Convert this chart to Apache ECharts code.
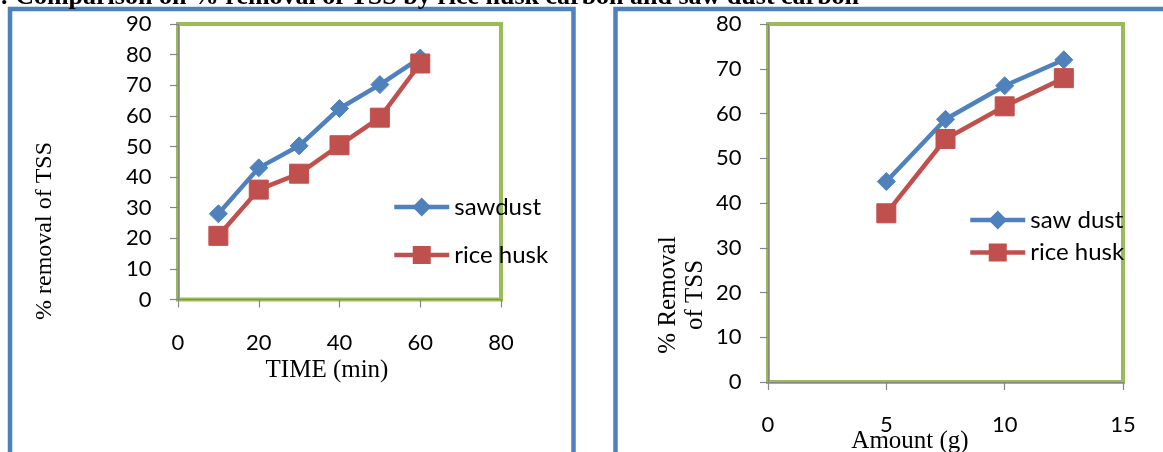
<!DOCTYPE html>
<html><head><meta charset="utf-8">
<script src="https://cdn.jsdelivr.net/npm/echarts@6/dist/echarts.min.js"></script>
<style>html,body{margin:0;padding:0;background:#fff;overflow:hidden}#c{width:1163px;height:452px}</style>
</head><body><div id="c"></div>
<script>
// ---- data ----
const timeMin = [10, 20, 30, 40, 50, 60];
const sawdustByTime = [28.0, 43.0, 50.2, 62.4, 70.2, 78.9];
const riceHuskByTime = [20.8, 35.9, 41.1, 50.4, 59.4, 77.1];
const amountG = [5, 7.5, 10, 12.5];
const sawDustByAmount = [44.8, 58.7, 66.2, 72.0];
const riceHuskByAmount = [37.7, 54.3, 61.6, 67.9];
const leftLegend = ['sawdust', 'rice husk'];
const rightLegend = ['saw dust', 'rice husk'];
const titleText = ': Comparison on % removal of TSS by rice husk carbon and saw dust carbon';
const leftXTitle = 'TIME (min)';
const leftYTitle = '% removal of TSS';
const rightXTitle = 'Amount (g)';
const rightYTitle = '% Removal\nof TSS';

const BLUE = '#4F81BD', RED = '#C0504D', GREEN = '#9BBB59', GRAY = '#868686';
const tickFont = { color: '#000', fontFamily: 'Lato', fontSize: 22 };
const pair = (xs, ys) => xs.map((x, i) => [x, ys[i]]);

function valueAxis(idx, min, max, interval, isX) {
  return {
    type: 'value', gridIndex: idx, min, max, interval,
    offset: 2,
    axisLine: { show: true, lineStyle: { color: GRAY, width: 1.2 } },
    axisTick: { show: true, inside: false, length: 8, lineStyle: { color: GRAY, width: 1.2 } },
    splitLine: { show: false },
    axisLabel: Object.assign({ margin: isX ? 30 : 24.5 }, tickFont)
  };
}

function lineSeries(name, xi, data, color, symbol, size) {
  return {
    type: 'line', name, xAxisIndex: xi, yAxisIndex: xi, data,
    symbol, symbolSize: size, showAllSymbol: true,
    lineStyle: { color, width: 4.5 },
    itemStyle: { color, borderColor: color, borderWidth: 1 },
    emphasis: { disabled: true }, animation: false
  };
}

const legendText = { color: '#000', fontFamily: 'Lato', fontSize: 24, lineHeight: 24 };
const chart = echarts.init(document.getElementById('c'), null, { renderer: 'canvas' });
chart.setOption({
  animation: false,
  grid: [
    { left: 178, right: 662, top: 24, bottom: 152.5, show: true, borderColor: GREEN, borderWidth: 4, backgroundColor: 'transparent' },
    { left: 768, right: 40, top: 24, bottom: 70, show: true, borderColor: GREEN, borderWidth: 4, backgroundColor: 'transparent' }
  ],
  xAxis: [valueAxis(0, 0, 80, 20, true), valueAxis(1, 0, 15, 5, true)],
  yAxis: [valueAxis(0, 0, 90, 10, false), valueAxis(1, 0, 80, 10, false)],
  legend: [
    { data: leftLegend, orient: 'vertical', left: 387, top: 190, padding: 5, itemWidth: 55, itemHeight: 20, itemGap: 24,
      lineStyle: { width: 4.5 }, textStyle: legendText, selectedMode: false },
    { data: rightLegend, orient: 'vertical', left: 963, top: 203, padding: 5, itemWidth: 55, itemHeight: 20, itemGap: 8.5,
      lineStyle: { width: 4.5 }, textStyle: legendText, selectedMode: false }
  ],
  series: [
    lineSeries(leftLegend[0], 0, pair(timeMin, sawdustByTime), BLUE, 'diamond', 18),
    lineSeries(leftLegend[1], 0, pair(timeMin, riceHuskByTime), RED, 'rect', 19),
    lineSeries(rightLegend[0], 1, pair(amountG, sawDustByAmount), BLUE, 'diamond', 18),
    lineSeries(rightLegend[1], 1, pair(amountG, riceHuskByAmount), RED, 'rect', 19)
  ],
  graphic: [
    { type: 'polyline', shape: { points: [[10, 470], [10, 9], [573.5, 9], [573.5, 470]] }, style: { stroke: BLUE, lineWidth: 4.5, fill: null }, silent: true },
    { type: 'polyline', shape: { points: [[615.5, 470], [615.5, 9], [1175, 9]] }, style: { stroke: BLUE, lineWidth: 4.5, fill: null }, silent: true },
    { type: 'text', x: 0, y: -3, style: { text: titleText, fill: '#000', font: 'bold 26px "Liberation Serif"', align: 'left', verticalAlign: 'middle' }, silent: true },
    { type: 'text', x: 327, y: 370, style: { text: leftXTitle, fill: '#000', font: '25px "Liberation Serif"', align: 'center', verticalAlign: 'middle' }, silent: true },
    { type: 'text', x: 45, y: 231, rotation: Math.PI / 2, style: { text: leftYTitle, fill: '#000', font: '24px "Liberation Serif"', align: 'center', verticalAlign: 'middle' }, silent: true },
    { type: 'text', x: 910, y: 441, style: { text: rightXTitle, fill: '#000', font: '25px "Liberation Serif"', align: 'center', verticalAlign: 'middle' }, silent: true },
    { type: 'text', x: 682, y: 295, rotation: Math.PI / 2, style: { text: rightYTitle, fill: '#000', font: '25px "Liberation Serif"', lineHeight: 27, align: 'center', verticalAlign: 'middle' }, silent: true }
  ]
});
</script></body></html>
